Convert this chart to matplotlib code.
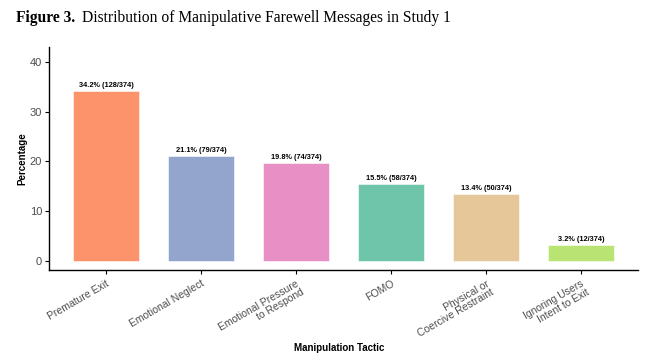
import numpy as np
import matplotlib.pyplot as plt

tactics = ['Premature Exit', 'Emotional Neglect', 'Emotional Pressure\nto Respond', 'FOMO',
           'Physical or\nCoercive Restraint', 'Ignoring Users\nIntent to Exit']
counts = [128, 79, 74, 58, 50, 12]
total = 374
colors = ['#FC8D62', '#8DA0CB', '#E78AC3', '#66C2A5', '#E5C494', '#B5E36B']

pct = [100 * c / total for c in counts]
labels = [f'{p:.1f}% ({c}/{total})' for p, c in zip(pct, counts)]

plt.rcParams['font.family'] = ['Liberation Sans', 'DejaVu Sans']

fig = plt.figure(figsize=(6.47, 3.55), dpi=100)
ax = fig.add_axes([0.0757, 0.239, 0.910, 0.629])

x = np.arange(1, len(tactics) + 1)
ax.bar(x, pct, width=0.7, color=colors, alpha=0.95, edgecolor='white', linewidth=0.4)
for xi, p, lab in zip(x, pct, labels):
    ax.text(xi, p + 0.4, lab, ha='center', va='bottom', fontsize=5.3, fontweight='bold')

ax.set_xlim(0.4, 6.6)
ax.set_ylim(-1.9, 43.1)
ax.set_yticks([0, 10, 20, 30, 40])
ax.set_xticks(x)
ax.set_xticklabels(tactics, rotation=30, ha='right', rotation_mode='anchor',
                   fontsize=7.5, color='#4D4D4D', linespacing=1.0)
ax.tick_params(axis='y', labelsize=8, labelcolor='#4D4D4D', length=3, width=0.8, pad=2)
ax.tick_params(axis='x', length=3, width=0.8, pad=3)
for s in ['top', 'right']:
    ax.spines[s].set_visible(False)
for s in ['left', 'bottom']:
    ax.spines[s].set_linewidth(1.0)
ax.set_ylabel('Percentage', fontsize=7, fontweight='bold', labelpad=2)
fig.text(0.525, 0.02, 'Manipulation Tactic', fontsize=7, fontweight='bold', ha='center', va='center')

fig.text(0.024, 0.949, 'Figure 3.', fontsize=11.2, fontweight='bold', family='Liberation Serif',
         va='center', ha='left')
fig.text(0.127, 0.949, 'Distribution of Manipulative Farewell Messages in Study 1', fontsize=11.2,
         family='Liberation Serif', va='center', ha='left')

fig.savefig('out.png', dpi=100)
